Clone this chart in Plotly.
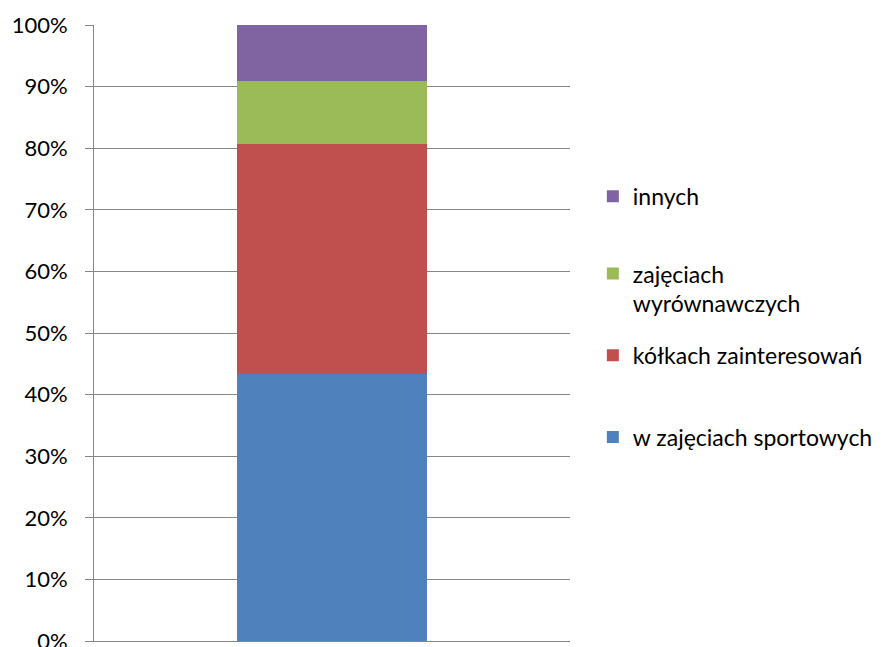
import plotly.graph_objects as go

categories = [""]
series_names = ["w zajęciach sportowych", "kółkach zainteresowań", "zajęciach<br>wyrównawczych", "innych"]
series_values = [43.4, 37.3, 10.2, 9.1]
colors = ["#4F81BD", "#C0504D", "#9BBB59", "#8064A2"]
tick_vals = [0, 10, 20, 30, 40, 50, 60, 70, 80, 90, 100]
tick_text = [f"{v}%" for v in tick_vals]

FONT = "Lato"
legend_ids = ["legend4", "legend3", "legend2", "legend"]
legend_y = [0.331, 0.464, 0.572, 0.722]

fig = go.Figure()
for name, val, col, lid in zip(series_names, series_values, colors, legend_ids):
    fig.add_trace(go.Bar(x=categories, y=[val], name=name, marker=dict(color=col, line=dict(width=0)),
                         legend=lid))

W, H = 892, 647
l, r, t, b = 86, 330, 17, 14
layout_legends = {}
for lid, yy in zip(legend_ids, legend_y):
    layout_legends[lid] = dict(x=1.048, xanchor="left", y=yy, yanchor="middle",
                               bgcolor="rgba(0,0,0,0)", valign="top",
                               font=dict(family=FONT, size=23, color="#000000"))

fig.update_layout(
    template="none",
    width=W, height=H,
    margin=dict(l=l, r=r, t=t, b=b, pad=0, autoexpand=False),
    barmode="stack", bargap=0.6,
    plot_bgcolor="white", paper_bgcolor="white",
    font=dict(family=FONT, size=22, color="#000000"),
    showlegend=True,
    **layout_legends,
)
fig.update_yaxes(range=[0, 100], tickvals=tick_vals, ticktext=tick_text, automargin=False,
                 showgrid=True, gridcolor="#868686", gridwidth=1,
                 showline=True, linecolor="#868686", linewidth=1,
                 ticks="outside", ticklen=8, tickcolor="#868686", tickwidth=1,
                 ticklabelstandoff=13, zeroline=False,
                 tickfont=dict(family=FONT, size=22, color="#000000"))
fig.update_xaxes(showticklabels=False, showline=True, linecolor="#868686", linewidth=1,
                 showgrid=False, ticks="", automargin=False, zeroline=False)
fig.write_html("out.html")
